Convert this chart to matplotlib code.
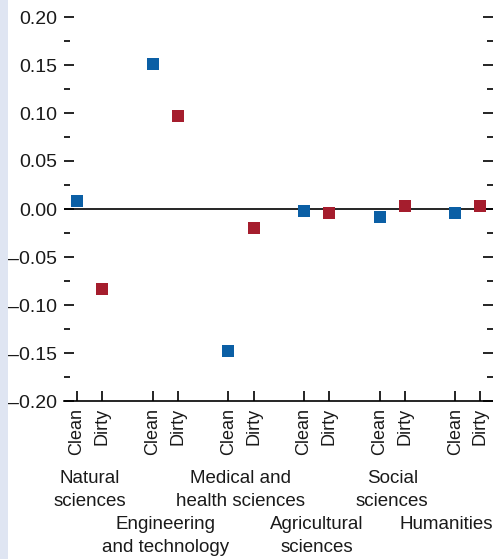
import numpy as np
import matplotlib
matplotlib.use('Agg')
import matplotlib.pyplot as plt
from matplotlib.patches import Rectangle
from matplotlib.ticker import MultipleLocator, FuncFormatter

####################################################
### Data

fields = ['Natural\nsciences', 'Engineering\nand technology', 'Medical and\nhealth sciences',
          'Agricultural\nsciences', 'Social\nsciences', 'Humanities']
clean_vals = [0.008, 0.151, -0.148, -0.002, -0.008, -0.004]
dirty_vals = [-0.083, 0.097, -0.020, -0.004, 0.003, 0.003]
pair_labels = ['Clean', 'Dirty']

####################################################
### Plot

matplotlib.rcParams['font.family'] = ['Liberation Sans Narrow', 'Liberation Sans', 'DejaVu Sans']
matplotlib.rcParams['text.color'] = '#1a1a1a'
matplotlib.rcParams['xtick.labelcolor'] = '#1a1a1a'
matplotlib.rcParams['ytick.labelcolor'] = '#1a1a1a'

blue = '#0b5fa5'
red = '#a51d2d'

fig = plt.figure(figsize=(4.93, 5.59), dpi=100)
fig.patches.append(Rectangle((0, 0), 8/493, 1, transform=fig.transFigure,
                             facecolor='#dfe5f2', edgecolor='none', zorder=0))

ax = fig.add_axes([64/493, 158/559, 429/493, 384/559])

n = len(fields)
x_clean = np.arange(n) * 3
x_dirty = x_clean + 1

ax.axhline(0, color='k', linewidth=1.2, zorder=1)
ax.scatter(x_clean, clean_vals, marker='s', s=70, color=blue, zorder=3, linewidths=0)
ax.scatter(x_dirty, dirty_vals, marker='s', s=70, color=red, zorder=3, linewidths=0)

ax.set_xlim(-0.52, 16.5)
ax.set_ylim(-0.2, 0.2)

for s in ['top', 'left', 'right']:
    ax.spines[s].set_visible(False)
ax.spines['bottom'].set_linewidth(1.2)

ax.yaxis.set_major_locator(MultipleLocator(0.05))
ax.yaxis.set_minor_locator(MultipleLocator(0.025))
ax.yaxis.set_major_formatter(FuncFormatter(lambda v, p: ('%.2f' % v).replace('-', '\u2013')))
ax.tick_params(axis='y', which='major', direction='in', length=7, width=1.2,
               left=True, right=True, labelsize=14, pad=5)
ax.tick_params(axis='y', which='minor', direction='in', length=4, width=1.2, left=True, right=True)

xs = np.sort(np.concatenate([x_clean, x_dirty]))
ax.set_xticks(xs)
ax.set_xticklabels(pair_labels * n, rotation=90, va='top')
ax.tick_params(axis='x', direction='in', length=7, width=1.2, labelsize=13, pad=5)

# discipline names in two staggered rows under the Clean/Dirty labels
for i, name in enumerate(fields):
    xc = x_clean[i] + 0.5
    ypos = -0.180 if i % 2 == 0 else -0.300
    ha = 'center'
    if i == n - 1:
        xc, ha = 16.5, 'right'
    ax.text(xc, ypos, name, transform=ax.get_xaxis_transform(), ha=ha, va='top',
            fontsize=13.5, linespacing=1.45)

fig.savefig('out.png', dpi=100)
